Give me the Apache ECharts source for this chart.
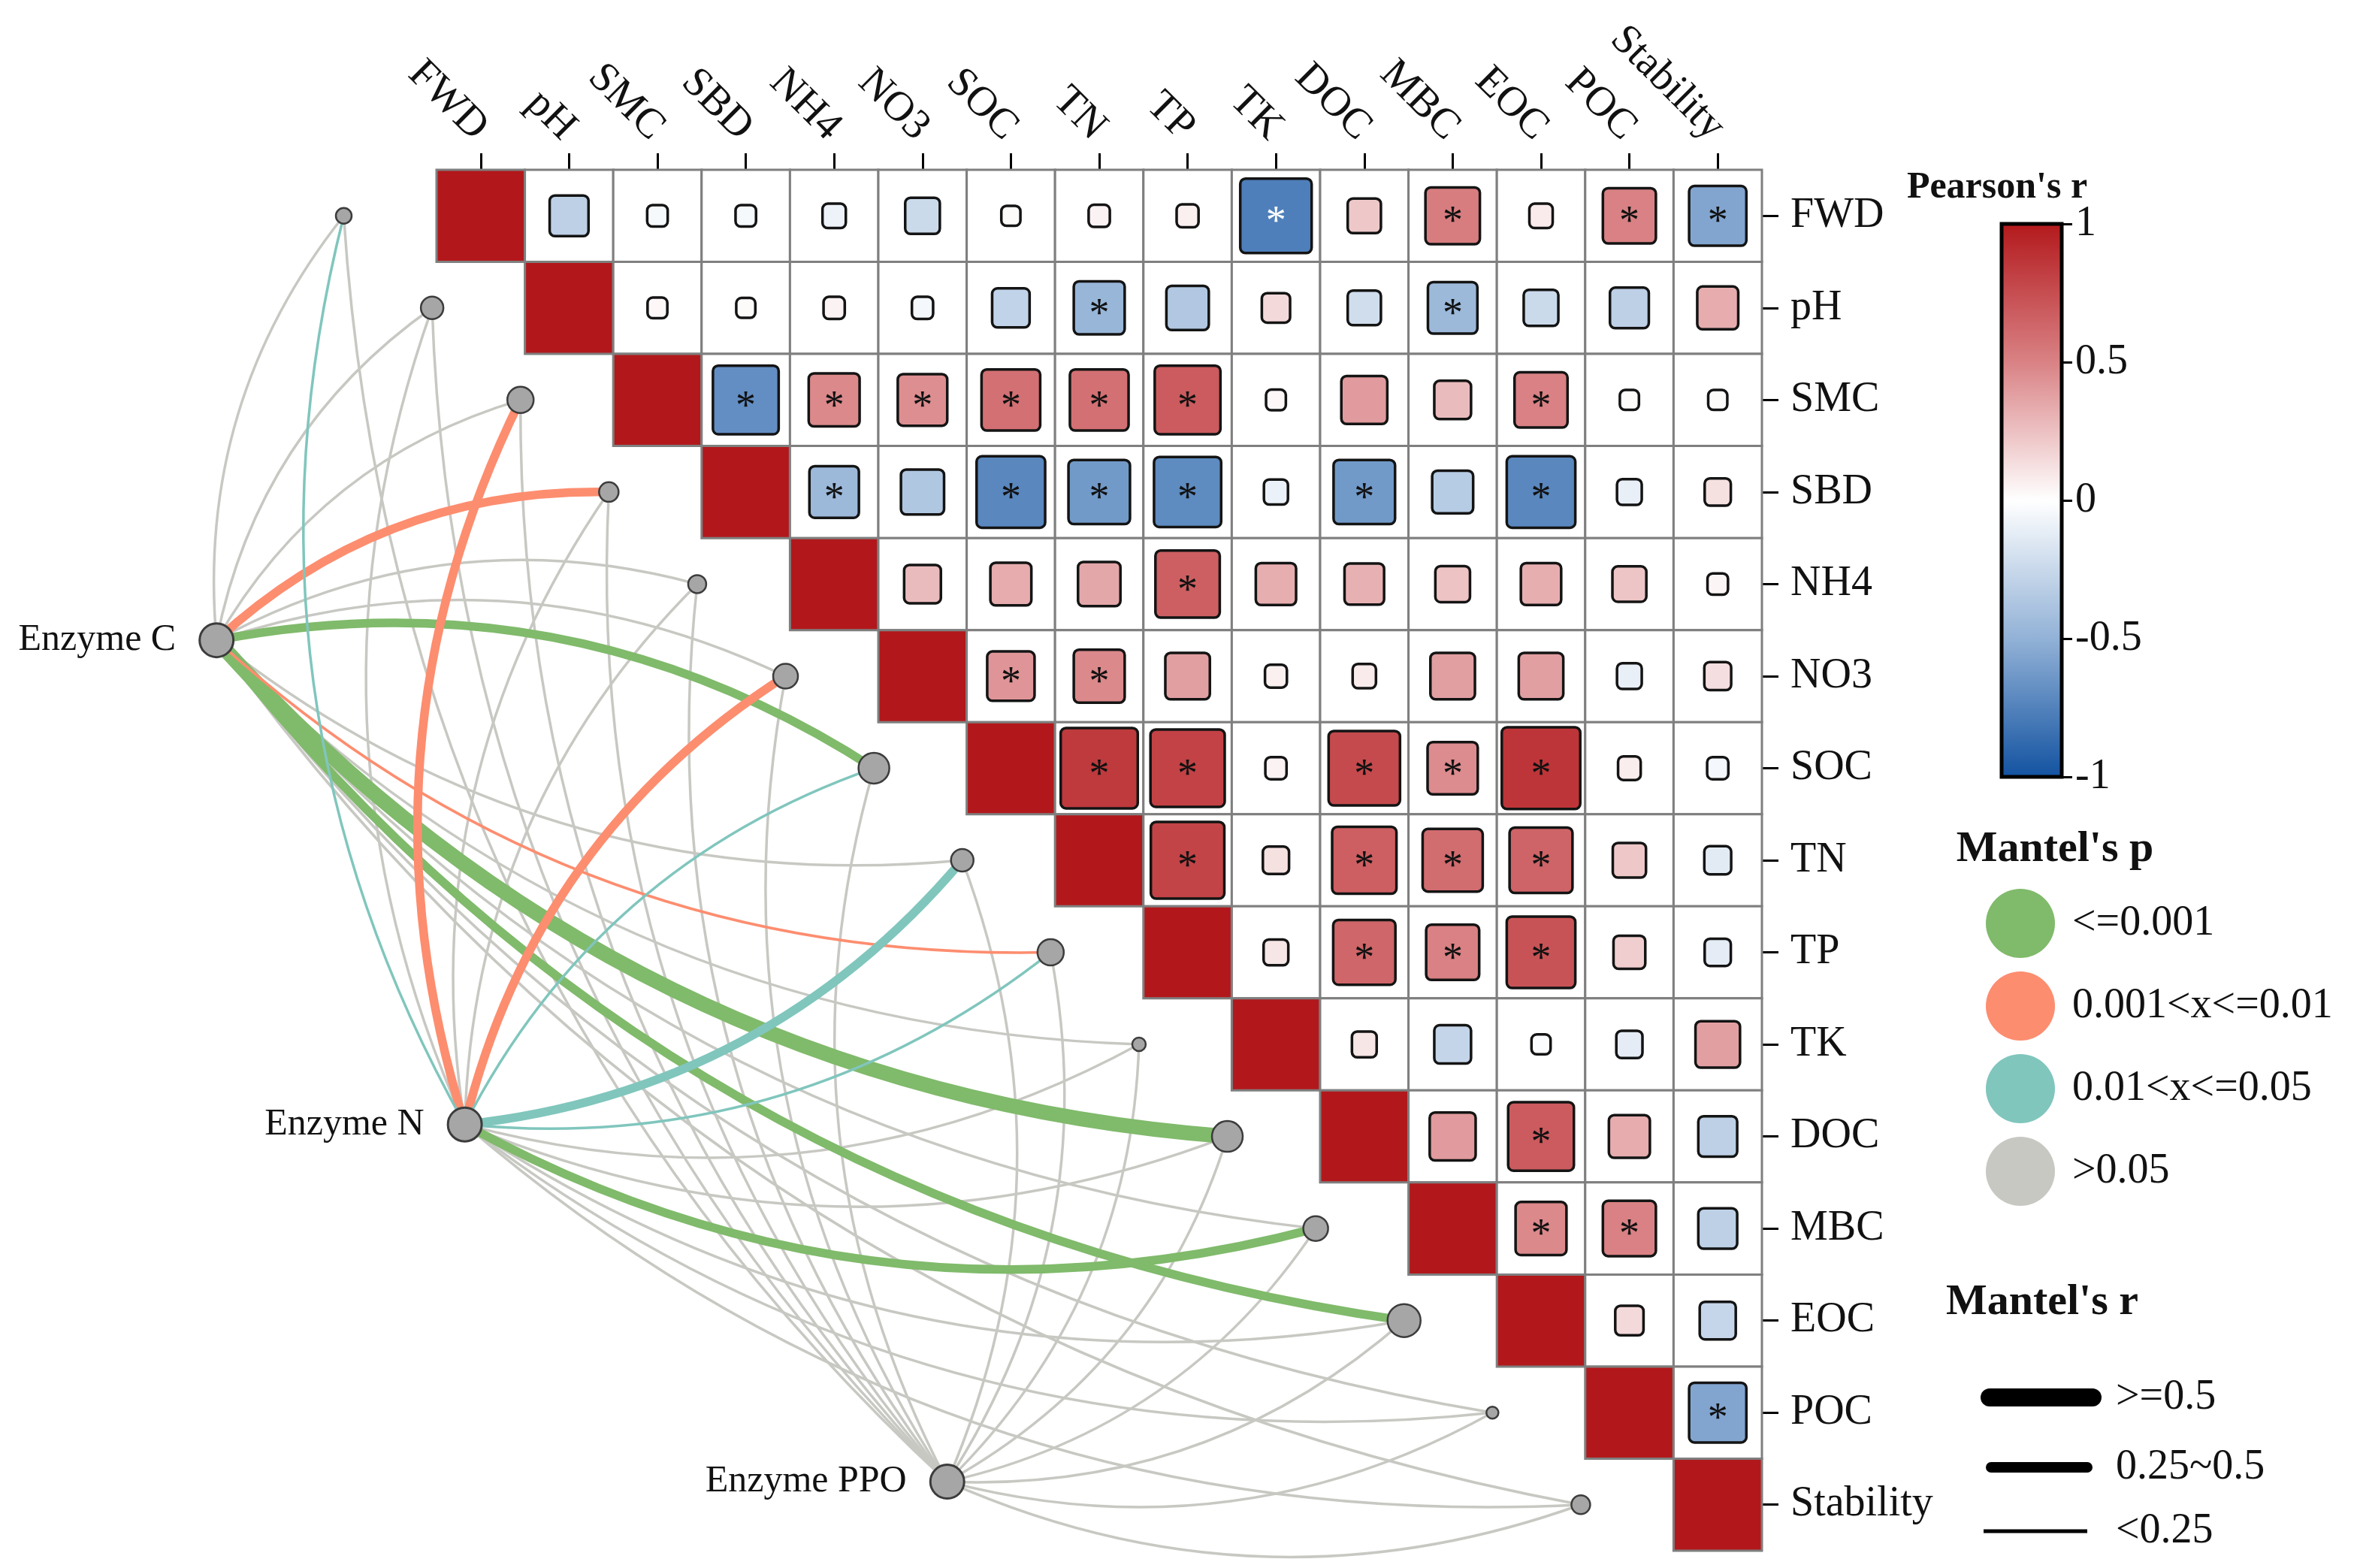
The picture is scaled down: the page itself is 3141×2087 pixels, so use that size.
<!DOCTYPE html>
<html>
<head>
<meta charset="utf-8">
<script src="https://cdn.jsdelivr.net/npm/echarts@6/dist/echarts.min.js"></script>
<style>
html,body{margin:0;padding:0;background:#ffffff;}
#chart{width:3141px;height:2087px;}
</style>
</head>
<body>
<div id="chart"></div>
<script>
// ---------------- DATA ----------------
const variables = ['FWD','pH','SMC','SBD','NH4','NO3','SOC','TN','TP','TK','DOC','MBC','EOC','POC','Stability'];

// Pearson's r, upper triangle, each row starts at the column right after the diagonal
const pearsonR = [
  [-0.30,-0.04,-0.04,-0.08,-0.24, 0.02, 0.05, 0.06,-0.76, 0.22, 0.52, 0.08, 0.50,-0.56],
  [ 0.03, 0.02, 0.05,-0.05,-0.28,-0.47,-0.35, 0.15,-0.22,-0.45,-0.24,-0.30, 0.33],
  [-0.68, 0.47, 0.45, 0.58, 0.58, 0.68, 0.03, 0.40, 0.27, 0.50, 0.02, 0.02],
  [-0.45,-0.36,-0.72,-0.62,-0.70,-0.09,-0.62,-0.33,-0.72,-0.10, 0.12],
  [ 0.27, 0.33, 0.35, 0.66, 0.32, 0.31, 0.24, 0.32, 0.23, 0.04],
  [ 0.42, 0.47, 0.38, 0.06, 0.08, 0.38, 0.38,-0.10, 0.13],
  [ 0.84, 0.80, 0.05, 0.76, 0.46, 0.86, 0.07,-0.05],
  [ 0.79, 0.12, 0.66, 0.60, 0.64, 0.22,-0.13],
  [ 0.10, 0.63, 0.50, 0.72, 0.20,-0.12],
  [ 0.10,-0.27,-0.02,-0.12, 0.38],
  [ 0.40, 0.68, 0.33,-0.30],
  [ 0.47, 0.50,-0.30],
  [ 0.15,-0.26],
  [-0.56],
  []
];
// significance (1 = "*"), same layout as pearsonR
const pearsonSig = [
  [0,0,0,0,0,0,0,0,1,0,1,0,1,1],
  [0,0,0,0,0,1,0,0,0,1,0,0,0],
  [1,1,1,1,1,1,0,0,0,1,0,0],
  [1,0,1,1,1,0,1,0,1,0,0],
  [0,0,0,1,0,0,0,0,0,0],
  [1,1,0,0,0,0,0,0,0],
  [1,1,0,1,1,1,0,0],
  [1,0,1,1,1,0,0],
  [0,1,1,1,0,0],
  [0,0,0,0,0],
  [0,1,0,0],
  [1,1,0],
  [0,0],
  [1],
  []
];

const enzymes = ['Enzyme C','Enzyme N','Enzyme PPO'];
const mantelPClasses = ['<=0.001','0.001<x<=0.01','0.01<x<=0.05','>0.05'];
const mantelRClasses = ['>=0.5','0.25~0.5','<0.25'];

const mantelP_EnzymeC = ['>0.05','>0.05','>0.05','0.001<x<=0.01','>0.05','>0.05','<=0.001','>0.05','0.001<x<=0.01','>0.05','<=0.001','>0.05','<=0.001','>0.05','>0.05'];
const mantelR_EnzymeC = ['<0.25','<0.25','<0.25','0.25~0.5','<0.25','<0.25','0.25~0.5','<0.25','<0.25','<0.25','>=0.5','<0.25','0.25~0.5','<0.25','<0.25'];
const mantelP_EnzymeN = ['0.01<x<=0.05','>0.05','0.001<x<=0.01','>0.05','>0.05','0.001<x<=0.01','0.01<x<=0.05','0.01<x<=0.05','0.01<x<=0.05','>0.05','>0.05','<=0.001','>0.05','>0.05','>0.05'];
const mantelR_EnzymeN = ['<0.25','<0.25','0.25~0.5','<0.25','<0.25','0.25~0.5','<0.25','0.25~0.5','<0.25','<0.25','<0.25','0.25~0.5','<0.25','<0.25','<0.25'];
const mantelP_EnzymePPO = ['>0.05','>0.05','>0.05','>0.05','>0.05','>0.05','>0.05','>0.05','>0.05','>0.05','>0.05','>0.05','>0.05','>0.05','>0.05'];
const mantelR_EnzymePPO = ['<0.25','<0.25','<0.25','<0.25','<0.25','<0.25','<0.25','<0.25','<0.25','<0.25','<0.25','<0.25','<0.25','<0.25','<0.25'];

const colorbarTicks = [-1, -0.5, 0, 0.5, 1];

// ---------------- LAYOUT / STYLE ----------------
const FONT = '"Liberation Serif", "Times New Roman", serif';
const GRID = {left: 581, top: 226, width: 1764, height: 1838};
// enzyme anchors, in cell units of the matrix (x: columns, y: rows)
const enzymeAnchors = [[-2.49, 5.11], [0.32, 10.37], [5.78, 14.25]];
const nodeOffsetX = -1.05;
const nodeSizes = [21,30,35,26,24,33,41,30,35,18,41,33,44,16,25];
const enzymeSize = 45;
const pColors = {'<=0.001':'#80BA6B','0.001<x<=0.01':'#FD8D6F','0.01<x<=0.05':'#80C6BD','>0.05':'#C8C8C3'};
const rWidths = {'>=0.5':20,'0.25~0.5':11.5,'<0.25':3.5};
const heatColors = ['#1151A0','#91B1D6','#FFFFFF','#D98184','#B2181B'];
const whiteStarCells = [[0, 9]]; // [row, col]
const curv = 0.2;

// ---------------- BUILD ----------------
const n = variables.length;
const heatData = [];
for (let i = 0; i < n; i++) {
  heatData.push([i, i, 1, 0]);
  const row = pearsonR[i] || [];
  for (let k = 0; k < row.length; k++) {
    const j = i + 1 + k;
    heatData.push([j, i, row[k], pearsonSig[i][k]]);
  }
}
function isWhiteStar(row, col) {
  return whiteStarCells.some(c => c[0] === row && c[1] === col);
}

function renderCell(params, api) {
  const c = api.value(0), r = api.value(1), v = api.value(2), s = api.value(3);
  const ctr = api.coord([c, r]);
  const sz = api.size([1, 1]);
  const w = sz[0], h = sz[1];
  const x0 = ctr[0] - w / 2, y0 = ctr[1] - h / 2;
  const color = api.visual('color');
  const children = [];
  if (c === r) {
    children.push({type: 'rect', shape: {x: x0, y: y0, width: w, height: h},
      style: {fill: color, stroke: '#7F7F7F', lineWidth: 3}});
  } else {
    children.push({type: 'rect', shape: {x: x0, y: y0, width: w, height: h},
      style: {fill: '#FFFFFF', stroke: '#7F7F7F', lineWidth: 3}});
    const f = 0.2 + 0.8 * Math.abs(v);
    const iw = w * f, ih = h * f;
    children.push({type: 'rect', shape: {x: ctr[0] - iw / 2, y: ctr[1] - ih / 2, width: iw, height: ih, r: 7},
      style: {fill: color, stroke: '#141414', lineWidth: 3.5}});
    if (s) {
      children.push({type: 'text', x: ctr[0], y: ctr[1] + 10,
        style: {text: '*', font: '54px ' + FONT, fill: isWhiteStar(r, c) ? '#FFFFFF' : '#111111',
          align: 'center', verticalAlign: 'middle'}});
    }
  }
  return {type: 'group', children: children};
}

function renderColorbar(params, api) {
  const p1 = api.coord([0, 1]);
  const p2 = api.coord([1, -1]);
  return {
    type: 'rect',
    shape: {x: p1[0], y: p1[1], width: p2[0] - p1[0], height: p2[1] - p1[1]},
    style: {
      fill: new echarts.graphic.LinearGradient(0, 0, 0, 1, [
        {offset: 0, color: heatColors[4]},
        {offset: 0.25, color: heatColors[3]},
        {offset: 0.5, color: heatColors[2]},
        {offset: 0.75, color: heatColors[1]},
        {offset: 1, color: heatColors[0]}
      ]),
      stroke: '#000000', lineWidth: 5
    }
  };
}

const mantelP = [mantelP_EnzymeC, mantelP_EnzymeN, mantelP_EnzymePPO];
const mantelR = [mantelR_EnzymeC, mantelR_EnzymeN, mantelR_EnzymePPO];
const linksByClass = {};
mantelPClasses.forEach(p => linksByClass[p] = []);
for (let e = 0; e < enzymes.length; e++) {
  for (let i = 0; i < n; i++) {
    const p = mantelP[e][i], r = mantelR[e][i];
    linksByClass[p].push({
      coords: [enzymeAnchors[e], [i + nodeOffsetX, i + 0.5]],
      lineStyle: {width: rWidths[r], curveness: i < 7 ? curv : -curv}
    });
  }
}
const drawOrder = ['>0.05', '<=0.001', '0.001<x<=0.01', '0.01<x<=0.05'];
const lineSeries = drawOrder.map((p, idx) => ({
  type: 'lines', name: p, coordinateSystem: 'cartesian2d',
  xAxisIndex: 1, yAxisIndex: 1, clip: false, silent: true,
  color: pColors[p],
  lineStyle: {color: pColors[p], opacity: 1, cap: 'round'},
  z: 3 + idx * 0.01,
  data: linksByClass[p]
}));

const nodeData = variables.map((v, i) => ({name: v, value: [i + nodeOffsetX, i + 0.5], symbolSize: nodeSizes[i]}));
const enzymeData = enzymes.map((e, k) => ({name: e, value: enzymeAnchors[k], symbolSize: enzymeSize}));

const chart = echarts.init(document.getElementById('chart'), null, {renderer: 'canvas', devicePixelRatio: 1});
const option = {
  backgroundColor: '#FFFFFF',
  animation: false,
  textStyle: {fontFamily: FONT},
  grid: [
    Object.assign({containLabel: false}, GRID),
    {left: 2664, top: 298, width: 80, height: 736, containLabel: false}
  ],
  xAxis: [
    {type: 'category', gridIndex: 0, data: variables, position: 'top',
      axisLine: {show: false, onZero: false},
      axisTick: {show: true, alignWithLabel: true, length: 22, lineStyle: {color: '#000', width: 3}},
      axisLabel: {rotate: 45, margin: 48, fontSize: 56, fontFamily: FONT, color: '#111', interval: 0},
      splitLine: {show: false}},
    {type: 'value', gridIndex: 0, min: 0, max: 15, show: false, axisLine: {onZero: false}},
    {type: 'value', gridIndex: 1, min: 0, max: 1, show: false, axisLine: {onZero: false}}
  ],
  yAxis: [
    {type: 'category', gridIndex: 0, data: variables, inverse: true, position: 'right',
      axisLine: {show: false, onZero: false},
      axisTick: {show: true, alignWithLabel: true, length: 22, lineStyle: {color: '#000', width: 3}},
      axisLabel: {margin: 38, fontSize: 56, fontFamily: FONT, color: '#111', interval: 0},
      splitLine: {show: false}},
    {type: 'value', gridIndex: 0, min: 0, max: 15, inverse: true, show: false, axisLine: {onZero: false}},
    {type: 'value', gridIndex: 1, min: -1, max: 1, interval: 0.5, position: 'right',
      axisLine: {show: false, onZero: false},
      axisTick: {show: true, length: 14, lineStyle: {color: '#000', width: 3}},
      axisLabel: {margin: 18, fontSize: 56, fontFamily: FONT, color: '#111',
        formatter: v => colorbarTicks.indexOf(v) >= 0 ? String(v) : ''},
      splitLine: {show: false}}
  ],
  visualMap: {
    type: 'continuous', show: false, min: -1, max: 1, dimension: 2, seriesIndex: 0,
    inRange: {color: heatColors}
  },
  legend: {
    data: mantelPClasses.map(p => ({name: p, icon: 'circle', itemStyle: {color: pColors[p], borderWidth: 0}})),
    orient: 'vertical', left: 2638, top: 1178, itemWidth: 92, itemHeight: 92, itemGap: 18,
    selectedMode: false,
    textStyle: {fontSize: 56, fontFamily: FONT, color: '#111', padding: [0, 0, 0, 18]}
  },
  graphic: [
    {type: 'text', x: 2658, y: 250, style: {text: "Pearson's r", font: 'bold 50px ' + FONT, fill: '#111', align: 'center', verticalAlign: 'middle'}},
    {type: 'text', x: 2735, y: 1131, style: {text: "Mantel's p", font: 'bold 58px ' + FONT, fill: '#111', align: 'center', verticalAlign: 'middle'}},
    {type: 'text', x: 2718, y: 1734, style: {text: "Mantel's r", font: 'bold 58px ' + FONT, fill: '#111', align: 'center', verticalAlign: 'middle'}},
    {type: 'line', shape: {x1: 2648, y1: 1860, x2: 2785, y2: 1860}, style: {stroke: '#000', lineWidth: 24, lineCap: 'round'}},
    {type: 'line', shape: {x1: 2650, y1: 1953, x2: 2778, y2: 1953}, style: {stroke: '#000', lineWidth: 14, lineCap: 'round'}},
    {type: 'line', shape: {x1: 2640, y1: 2038, x2: 2778, y2: 2038}, style: {stroke: '#000', lineWidth: 5}},
    {type: 'text', x: 2816, y: 1860, style: {text: mantelRClasses[0], font: '56px ' + FONT, fill: '#111', align: 'left', verticalAlign: 'middle'}},
    {type: 'text', x: 2816, y: 1953, style: {text: mantelRClasses[1], font: '56px ' + FONT, fill: '#111', align: 'left', verticalAlign: 'middle'}},
    {type: 'text', x: 2816, y: 2038, style: {text: mantelRClasses[2], font: '56px ' + FONT, fill: '#111', align: 'left', verticalAlign: 'middle'}}
  ],
  series: [
    {type: 'custom', name: 'pearson', xAxisIndex: 0, yAxisIndex: 0, renderItem: renderCell,
      data: heatData, z: 2, silent: true},
    {type: 'custom', name: 'colorbar', xAxisIndex: 2, yAxisIndex: 2, renderItem: renderColorbar,
      data: [[0, 0]], z: 2, silent: true}
  ].concat(lineSeries).concat([
    {type: 'scatter', name: 'nodes', xAxisIndex: 1, yAxisIndex: 1, clip: false, silent: true, z: 6,
      itemStyle: {color: '#A6A6A6', borderColor: '#3C3C3C', borderWidth: 2.5, opacity: 1},
      data: nodeData},
    {type: 'scatter', name: 'enzymes', xAxisIndex: 1, yAxisIndex: 1, clip: false, silent: true, z: 6,
      itemStyle: {color: '#A6A6A6', borderColor: '#3C3C3C', borderWidth: 3, opacity: 1},
      label: {show: true, position: 'left', distance: 30, formatter: '{b}', fontSize: 50, fontFamily: FONT, color: '#111'},
      data: enzymeData}
  ])
};
chart.setOption(option);
</script>
</body>
</html>
